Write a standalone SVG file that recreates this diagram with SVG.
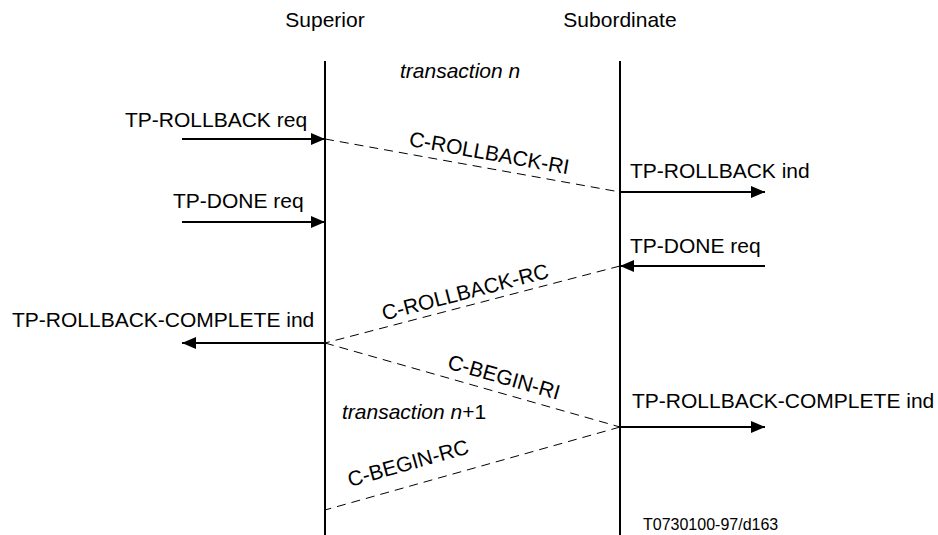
<svg xmlns="http://www.w3.org/2000/svg" width="938" height="535" viewBox="0 0 938 535">
  <style>
    text { font-family: "Liberation Sans", Arial, sans-serif; font-size: 21px; fill: #000; }
    .it { font-style: italic; }
    .small { font-size: 16px; }
    .life { stroke: #000; stroke-width: 2; fill: none; }
    .prim { stroke: #000; stroke-width: 2; fill: none; marker-end: url(#ah); }
    .pdu { stroke: #000; stroke-width: 1; fill: none; stroke-dasharray: 9 6; }
  </style>
  <defs>
    <marker id="ah" markerUnits="userSpaceOnUse" markerWidth="14" markerHeight="12" refX="14" refY="6" orient="auto" viewBox="0 0 14 12">
      <path d="M0,0 L14,6 L0,12 z" fill="#000"/>
    </marker>
  </defs>
  <rect width="938" height="535" fill="#fff"/>

  <g id="superior">
    <text x="325" y="27" text-anchor="middle">Superior</text>
    <line class="life" x1="325" y1="61" x2="325" y2="535"/>
  </g>
  <g id="subordinate">
    <text x="620" y="27" text-anchor="middle">Subordinate</text>
    <line class="life" x1="620" y1="61" x2="620" y2="535"/>
  </g>

  <g id="transaction-labels">
    <text class="it" x="400" y="78">transaction n</text>
    <text x="342" y="419"><tspan class="it">transaction n</tspan>+1</text>
  </g>

  <g id="connectors">
    <g id="tp-rollback-req">
      <line class="prim" x1="182" y1="139" x2="325" y2="139"/>
      <text x="125" y="127">TP-ROLLBACK req</text>
    </g>
    <g id="c-rollback-ri">
      <line class="pdu" x1="325" y1="139" x2="620" y2="192"/>
      <text x="488" y="160" text-anchor="middle" transform="rotate(10.2 488 160)">C-ROLLBACK-RI</text>
    </g>
    <g id="tp-rollback-ind">
      <line class="prim" x1="620" y1="192" x2="765" y2="192"/>
      <text x="630" y="178">TP-ROLLBACK ind</text>
    </g>
    <g id="tp-done-req-sup">
      <line class="prim" x1="182" y1="222" x2="325" y2="222"/>
      <text x="173" y="208">TP-DONE req</text>
    </g>
    <g id="tp-done-req-sub">
      <line class="prim" x1="765" y1="266" x2="620" y2="266"/>
      <text x="630" y="253">TP-DONE req</text>
    </g>
    <g id="c-rollback-rc">
      <line class="pdu" x1="620" y1="266" x2="325" y2="343"/>
      <text x="467" y="299" text-anchor="middle" transform="rotate(-14.6 467 299)">C-ROLLBACK-RC</text>
    </g>
    <g id="tp-rollback-complete-ind-sup">
      <line class="prim" x1="325" y1="343" x2="182" y2="343"/>
      <text x="12" y="327">TP-ROLLBACK-COMPLETE ind</text>
    </g>
    <g id="c-begin-ri">
      <line class="pdu" x1="325" y1="343" x2="620" y2="427"/>
      <text x="502" y="384" text-anchor="middle" transform="rotate(15.9 502 384)">C-BEGIN-RI</text>
    </g>
    <g id="tp-rollback-complete-ind-sub">
      <line class="prim" x1="620" y1="427" x2="765" y2="427"/>
      <text x="632" y="408">TP-ROLLBACK-COMPLETE ind</text>
    </g>
    <g id="c-begin-rc">
      <line class="pdu" x1="620" y1="427" x2="325" y2="510"/>
      <text x="410" y="470" text-anchor="middle" transform="rotate(-15.7 410 470)">C-BEGIN-RC</text>
    </g>
  </g>

  <text class="small" x="643" y="530">T0730100-97/d163</text>
</svg>
